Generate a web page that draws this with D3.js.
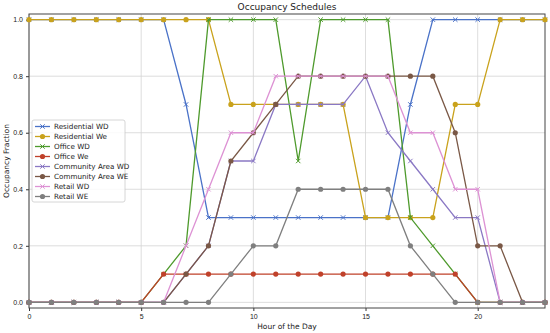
<!DOCTYPE html>
<html>
<head>
<meta charset="utf-8">
<script src="https://cdn.jsdelivr.net/npm/d3@7"></script>
<style>
body { margin: 0; background: #fff; }
svg { font-family: "DejaVu Sans", sans-serif; }
</style>
</head>
<body>
<div id="chart"></div>
<script>
// Occupancy schedules, one value per hour of the day.

var hours = d3.range(0, 24);
var seriesNames = ["Residential WD", "Residential We", "Office WD", "Office We",
    "Community Area WD", "Community Area WE", "Retail WD", "Retail WE"];
var seriesColors = ["#4a72c8", "#c9a21c", "#4e9a2c", "#c0412a",
    "#8a78c4", "#7a5846", "#dd92d4", "#7f7f7f"];
var seriesMarkers = ["x", "o", "x", "o", "x", "o", "x", "o"];

var residentialWD = [1, 1, 1, 1, 1, 1, 1, 0.7, 0.3, 0.3, 0.3, 0.3, 0.3, 0.3, 0.3, 0.3, 0.3, 0.7, 1, 1, 1, 1, 1, 1];
var residentialWe = [1, 1, 1, 1, 1, 1, 1, 1, 1, 0.7, 0.7, 0.7, 0.7, 0.7, 0.7, 0.3, 0.3, 0.3, 0.3, 0.7, 0.7, 1, 1, 1];
var officeWD = [0, 0, 0, 0, 0, 0, 0.1, 0.2, 1, 1, 1, 1, 0.5, 1, 1, 1, 1, 0.3, 0.2, 0.1, 0, 0, 0, 0];
var officeWe = [0, 0, 0, 0, 0, 0, 0.1, 0.1, 0.1, 0.1, 0.1, 0.1, 0.1, 0.1, 0.1, 0.1, 0.1, 0.1, 0.1, 0.1, 0, 0, 0, 0];
var communityWD = [0, 0, 0, 0, 0, 0, 0, 0.1, 0.2, 0.5, 0.5, 0.7, 0.7, 0.7, 0.7, 0.8, 0.6, 0.5, 0.4, 0.3, 0.3, 0, 0, 0];
var communityWE = [0, 0, 0, 0, 0, 0, 0, 0.1, 0.2, 0.5, 0.6, 0.7, 0.8, 0.8, 0.8, 0.8, 0.8, 0.8, 0.8, 0.6, 0.2, 0.2, 0, 0];
var retailWD = [0, 0, 0, 0, 0, 0, 0, 0.2, 0.4, 0.6, 0.6, 0.8, 0.8, 0.8, 0.8, 0.8, 0.8, 0.6, 0.6, 0.4, 0.4, 0, 0, 0];
var retailWE = [0, 0, 0, 0, 0, 0, 0, 0, 0, 0.1, 0.2, 0.2, 0.4, 0.4, 0.4, 0.4, 0.4, 0.2, 0.1, 0, 0, 0, 0, 0];

var seriesValues = [residentialWD, residentialWe, officeWD, officeWe,
    communityWD, communityWE, retailWD, retailWE];

var xTicks = [0, 5, 10, 15, 20];
var yTicks = [0, 0.2, 0.4, 0.6, 0.8, 1.0];

var width = 550, height = 333;
var margin = {top: 14, right: 5, bottom: 25, left: 29};

var svg = d3.select("#chart").append("svg")
    .attr("width", width)
    .attr("height", height);

var x = d3.scaleLinear().domain([0, 23]).range([margin.left, width - margin.right]);
var y = d3.scaleLinear().domain([-0.02, 1.02]).range([height - margin.bottom, margin.top]);

// grid
svg.append("g").selectAll("line.gx").data(xTicks).enter()
    .append("line")
    .attr("x1", d => x(d)).attr("x2", d => x(d))
    .attr("y1", margin.top).attr("y2", height - margin.bottom)
    .style("stroke", "#d4d4d4").style("stroke-width", 0.8);
svg.append("g").selectAll("line.gy").data(yTicks).enter()
    .append("line")
    .attr("x1", margin.left).attr("x2", width - margin.right)
    .attr("y1", d => y(d)).attr("y2", d => y(d))
    .style("stroke", "#d4d4d4").style("stroke-width", 0.8);

// axes
var xAxis = svg.append("g")
    .attr("transform", "translate(0," + (height - margin.bottom) + ")")
    .call(d3.axisBottom(x).tickValues(xTicks).tickFormat(d3.format("d")).tickSize(3).tickPadding(3));
var yAxis = svg.append("g")
    .attr("transform", "translate(" + margin.left + ",0)")
    .call(d3.axisLeft(y).tickValues(yTicks).tickFormat(d3.format(".1f")).tickSize(3).tickPadding(3));
[xAxis, yAxis].forEach(function(ax) {
    ax.select(".domain").remove();
    ax.selectAll("text").style("font-size", "7px").style("fill", "#222");
    ax.selectAll("line").style("stroke", "#333");
});

// frame
svg.append("rect")
    .attr("x", margin.left).attr("y", margin.top)
    .attr("width", width - margin.left - margin.right)
    .attr("height", height - margin.top - margin.bottom)
    .style("fill", "none").style("stroke", "#444").style("stroke-width", 1);

// lines and markers
var line = d3.line().x((d, i) => x(hours[i])).y(d => y(d));

function drawMarker(g, kind, color, cx, cy) {
    if (kind == "o") {
        g.append("circle").attr("cx", cx).attr("cy", cy).attr("r", 2.6)
            .style("fill", color);
    } else {
        var s = 2.2;
        g.append("path")
            .attr("d", "M" + (cx - s) + "," + (cy - s) + "L" + (cx + s) + "," + (cy + s) +
                "M" + (cx - s) + "," + (cy + s) + "L" + (cx + s) + "," + (cy - s))
            .style("stroke", color).style("stroke-width", 1);
    }
}

seriesValues.forEach(function(vals, k) {
    var g = svg.append("g");
    g.append("path")
        .datum(vals)
        .attr("d", line)
        .style("fill", "none")
        .style("stroke", seriesColors[k])
        .style("stroke-width", 1.3);
    vals.forEach(function(v, i) {
        drawMarker(g, seriesMarkers[k], seriesColors[k], x(hours[i]), y(v));
    });
});

// title and labels
svg.append("text")
    .attr("x", (margin.left + width - margin.right) / 2).attr("y", 10)
    .attr("text-anchor", "middle")
    .style("font-size", "9px").style("fill", "#222")
    .text("Occupancy Schedules");
svg.append("text")
    .attr("x", (margin.left + width - margin.right) / 2).attr("y", 329)
    .attr("text-anchor", "middle")
    .style("font-size", "7.5px").style("fill", "#222")
    .text("Hour of the Day");
svg.append("text")
    .attr("transform", "translate(9," + ((margin.top + height - margin.bottom) / 2) + ") rotate(-90)")
    .attr("text-anchor", "middle")
    .style("font-size", "7.5px").style("fill", "#222")
    .text("Occupancy Fraction");

// legend
var legend = svg.append("g").attr("transform", "translate(32,120)");
legend.append("rect")
    .attr("width", 93).attr("height", 82).attr("rx", 2)
    .style("fill", "rgba(255,255,255,0.85)")
    .style("stroke", "#ccc").style("stroke-width", 0.8);
seriesNames.forEach(function(name, k) {
    var ly = 6.5 + k * 10;
    legend.append("line")
        .attr("x1", 3).attr("x2", 18).attr("y1", ly).attr("y2", ly)
        .style("stroke", seriesColors[k]).style("stroke-width", 1.3);
    drawMarker(legend, seriesMarkers[k], seriesColors[k], 10.5, ly);
    legend.append("text")
        .attr("x", 22).attr("y", ly + 2.6)
        .style("font-size", "7.2px").style("fill", "#222")
        .text(name);
});
</script>
</body>
</html>
